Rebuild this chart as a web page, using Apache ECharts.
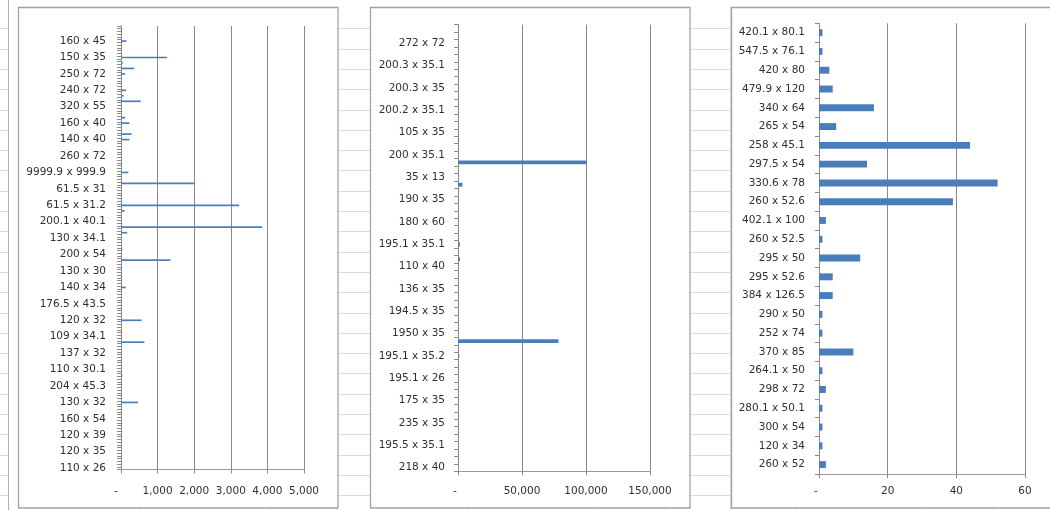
<!DOCTYPE html>
<html>
<head>
<meta charset="utf-8">
<script src="https://cdn.jsdelivr.net/npm/echarts@6/dist/echarts.min.js"></script>
<style>
  html, body { margin: 0; padding: 0; background: #fff; }
  #chart { width: 1050px; height: 510px; }
</style>
</head>
<body>
<div id="chart"></div>
<script>
// ---- Panel 1: sizes listed bottom to top, one label shown every 6 rows ----
const labels1 = ['110 x 26', '120 x 35', '120 x 39', '160 x 54', '130 x 32', '204 x 45.3',
  '110 x 30.1', '137 x 32', '109 x 34.1', '120 x 32', '176.5 x 43.5', '140 x 34', '130 x 30',
  '200 x 54', '130 x 34.1', '200.1 x 40.1', '61.5 x 31.2', '61.5 x 31', '9999.9 x 999.9',
  '260 x 72', '140 x 40', '160 x 40', '320 x 55', '240 x 72', '250 x 72', '150 x 35', '160 x 45'];
const rowsPerLabel1 = 6;
const rowCount1 = 162;
const barRows1   = [24, 34, 46, 54, 66, 70, 76, 80, 86, 88, 94, 96, 104, 108, 120, 122, 126, 128, 134, 136, 138, 144, 146, 148, 150, 156, 160];
const barValues1 = [465, 35, 640, 565, 130, 30, 1350, 35, 170, 3860, 100, 3230, 2020, 200, 230, 290, 230, 115, 540, 70, 140, 110, 360, 45, 1260, 150, 30];
const ticks1 = { max: 5000, interval: 1000 };

// ---- Panel 2: sizes listed bottom to top, one label shown every 3 rows ----
const labels2 = ['218 x 40', '195.5 x 35.1', '235 x 35', '175 x 35', '195.1 x 26', '195.1 x 35.2',
  '1950 x 35', '194.5 x 35', '136 x 35', '110 x 40', '195.1 x 35.1', '180 x 60', '190 x 35',
  '35 x 13', '200 x 35.1', '105 x 35', '200.2 x 35.1', '200.3 x 35', '200.3 x 35.1', '272 x 72'];
const rowsPerLabel2 = 3;
const rowCount2 = 60;
const barRows2   = [15, 17, 28, 30, 38, 41, 44];
const barValues2 = [1000, 78500, 1500, 1500, 3500, 100500, 800];
const ticks2 = { max: 150000, interval: 50000 };

// ---- Panel 3: every size labelled, bottom to top ----
const labels3 = ['260 x 52', '120 x 34', '300 x 54', '280.1 x 50.1', '298 x 72', '264.1 x 50',
  '370 x 85', '252 x 74', '290 x 50', '384 x 126.5', '295 x 52.6', '295 x 50', '260 x 52.5',
  '402.1 x 100', '260 x 52.6', '330.6 x 78', '297.5 x 54', '258 x 45.1', '265 x 54', '340 x 64',
  '479.9 x 120', '420 x 80', '547.5 x 76.1', '420.1 x 80.1'];
const values3 = [2, 1, 1, 1, 2, 1, 10, 1, 1, 4, 4, 12, 1, 2, 39, 52, 14, 44, 5, 16, 4, 3, 1, 1];
const ticks3 = { max: 60, interval: 20 };

// Expand a sparse list of labelled rows into full category / value arrays
function expandRows(labels, perLabel, count, rows, values) {
  const cats = new Array(count).fill('');
  labels.forEach((name, k) => { cats[k * perLabel] = name; });
  const data = new Array(count).fill(null);
  rows.forEach((r, i) => { data[r] = values[i]; });
  return { cats, data };
}
const p1 = expandRows(labels1, rowsPerLabel1, rowCount1, barRows1, barValues1);
const p2 = expandRows(labels2, rowsPerLabel2, rowCount2, barRows2, barValues2);

const FONT = 'DejaVu Sans';
const TEXT = '#303030';
const GRID_LINE = '#8a8a8a';
const BAR = '#4a7ebb';

function valueAxis(idx, ticks, margin, zeroPad) {
  return {
    type: 'value', gridIndex: idx, min: 0, max: ticks.max, interval: ticks.interval,
    axisLine: { show: true, lineStyle: { color: '#9a9a9a', width: 1 } },
    axisTick: { show: true, length: 4, lineStyle: { color: '#8a8a8a' } },
    splitLine: { show: true, lineStyle: { color: GRID_LINE, width: 1 } },
    axisLabel: {
      margin: margin, color: TEXT, fontFamily: FONT, fontSize: 10.5,
      formatter: v => v === 0 ? '{z|-}' : '{n|' + v.toLocaleString('en-US') + '}',
      rich: {
        z: { padding: [0, zeroPad, 0, 0], color: TEXT, fontFamily: FONT, fontSize: 10.5 },
        n: { color: TEXT, fontFamily: FONT, fontSize: 10.5 }
      }
    }
  };
}
function categoryAxis(idx, cats, margin) {
  return {
    type: 'category', gridIndex: idx, data: cats, boundaryGap: true,
    axisLine: { show: true, lineStyle: { color: '#8a8a8a', width: 1 } },
    axisTick: { show: true, interval: 0, length: 4, inside: false, lineStyle: { color: '#8a8a8a' } },
    axisLabel: { interval: 0, margin: margin, color: TEXT, fontFamily: FONT, fontSize: 10.5 },
    splitLine: { show: false }
  };
}

// Spreadsheet backdrop: cell rows and columns, then the three white chart frames
const backdrop = [];
for (let y = 28.3; y < 510; y += 20.3) {
  backdrop.push({ type: 'line', z: -30, shape: { x1: 0, y1: Math.round(y) + 0.5, x2: 1050, y2: Math.round(y) + 0.5 },
    style: { stroke: '#d5dce8', lineWidth: 1 } });
}
for (let x = 8.5; x < 1050; x += 65.55) {
  backdrop.push({ type: 'line', z: -30, shape: { x1: Math.round(x) + 0.5, y1: 0, x2: Math.round(x) + 0.5, y2: 510 },
    style: { stroke: '#d5dce8', lineWidth: 1 } });
}
backdrop.push({ type: 'rect', z: -20, shape: { x: 0, y: 0, width: 1050, height: 7 }, style: { fill: '#fff' } });
backdrop.push({ type: 'rect', z: -20, shape: { x: 9, y: 7, width: 10, height: 501 }, style: { fill: '#fff' } });
backdrop.push({ type: 'line', z: -10, shape: { x1: 8.5, y1: 0, x2: 8.5, y2: 510 }, style: { stroke: '#b4b4b4', lineWidth: 1 } });
[[18.5, 319.5], [370.5, 319.5], [731.5, 330]].forEach(([x, w]) => {
  backdrop.push({ type: 'rect', z: -10, shape: { x: x, y: 7.5, width: w, height: 500.5 },
    style: { fill: '#fff', stroke: '#a3a3a3', lineWidth: 1.3 } });
});

const chart = echarts.init(document.getElementById('chart'), null, { renderer: 'canvas' });
chart.setOption({
  animation: false,
  backgroundColor: '#fff',
  graphic: { elements: backdrop },
  grid: [
    { left: 121, top: 26, width: 183, height: 443.5, outerBoundsMode: 'none' },
    { left: 458, top: 24.6, width: 192, height: 446.8, outerBoundsMode: 'none' },
    { left: 819, top: 23.3, width: 206, height: 450.7, outerBoundsMode: 'none' }
  ],
  xAxis: [
    valueAxis(0, ticks1, 16, 10),
    valueAxis(1, ticks2, 14, 6),
    valueAxis(2, ticks3, 12, 6)
  ],
  yAxis: [
    categoryAxis(0, p1.cats, 15),
    categoryAxis(1, p2.cats, 13),
    categoryAxis(2, labels3, 14)
  ],
  series: [
    { type: 'bar', xAxisIndex: 0, yAxisIndex: 0, data: p1.data, barWidth: '62%', itemStyle: { color: BAR } },
    { type: 'bar', xAxisIndex: 1, yAxisIndex: 1, data: p2.data, barWidth: '52%', itemStyle: { color: BAR } },
    { type: 'bar', xAxisIndex: 2, yAxisIndex: 2, data: values3, barWidth: '37%', itemStyle: { color: BAR } }
  ]
});
</script>
</body>
</html>
